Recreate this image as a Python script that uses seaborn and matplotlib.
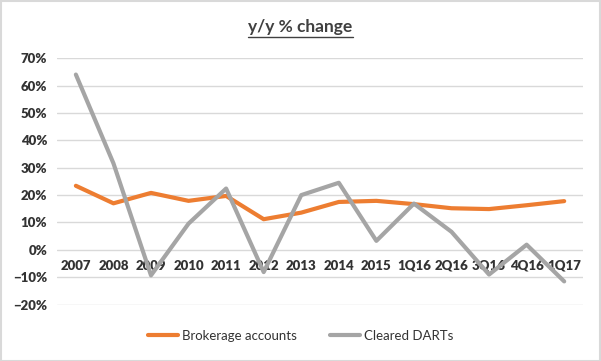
import pandas as pd
import matplotlib.pyplot as plt
import seaborn as sns
from matplotlib.patches import Rectangle
from matplotlib.ticker import PercentFormatter

periods = ['2007', '2008', '2009', '2010', '2011', '2012', '2013', '2014',
           '2015', '1Q16', '2Q16', '3Q16', '4Q16', '1Q17']
brokerage = [23.4, 17.0, 20.8, 17.9, 19.7, 11.2, 13.6, 17.5,
             17.9, 16.7, 15.2, 14.9, 16.3, 17.8]
darts = [64.0, 31.6, -9.3, 9.6, 22.4, -8.1, 20.0, 24.5,
         3.3, 16.9, 6.6, -9.0, 1.9, -11.5]

df = pd.DataFrame({'period': periods * 2,
                   'pos': list(range(len(periods))) * 2,
                   'value': brokerage + darts,
                   'series': ['Brokerage accounts'] * len(periods) + ['Cleared DARTs'] * len(periods)})

sns.set_style('white')
plt.rcParams['font.family'] = ['Lato', 'DejaVu Sans']

fig = plt.figure(figsize=(6.01, 3.61), dpi=100)
ax = fig.add_axes([0.095, 0.156, 0.875, 0.683])

sns.lineplot(data=df, x='pos', y='value', hue='series', sort=False,
             palette={'Brokerage accounts': '#ED7D31', 'Cleared DARTs': '#A5A5A5'},
             linewidth=3, ax=ax, legend=True)

ax.set_xlim(-0.5, len(periods) - 0.5)
ax.set_ylim(-20, 70)
ax.set_yticks(range(-20, 80, 10))
ax.yaxis.set_major_formatter(PercentFormatter(decimals=0))
ax.set_xticks(range(len(periods)))
ax.set_xticklabels(periods)
ax.grid(axis='y', color='#D9D9D9', linewidth=1)
ax.set_axisbelow(True)
for s in ax.spines.values():
    s.set_visible(False)
ax.spines['bottom'].set_position(('data', 0))
ax.tick_params(axis='both', length=0, colors='#333333', labelsize=9.5)
ax.tick_params(axis='x', pad=7)
ax.tick_params(axis='y', pad=7)
for lab in ax.get_xticklabels() + ax.get_yticklabels():
    lab.set_fontweight('heavy')
ax.set_xlabel('')
ax.set_ylabel('')

ax.legend_.remove()
handles, labels = ax.get_legend_handles_labels()
fig.legend(handles, labels, loc='center', bbox_to_anchor=(0.5, 0.069), ncol=2,
           frameon=False, fontsize=9.5, handlelength=2.3, handletextpad=0.3,
           columnspacing=2.5, labelcolor='#333333')

fig.text(0.5, 0.925, 'y/y % change', ha='center', va='center', fontsize=12.5,
         fontweight='bold', color='#404040')
t = fig.texts[-1]
fig.canvas.draw()
bb = t.get_window_extent().transformed(fig.transFigure.inverted())
fig.add_artist(plt.Line2D([bb.x0, bb.x1], [bb.y0 - 0.004, bb.y0 - 0.004],
                          color='#404040', linewidth=1, transform=fig.transFigure))

fig.add_artist(Rectangle((0.001, 0.001), 0.997, 0.996, transform=fig.transFigure,
                         fill=False, edgecolor='#D9D9D9', linewidth=1.5))

fig.savefig('out.png', dpi=100)
